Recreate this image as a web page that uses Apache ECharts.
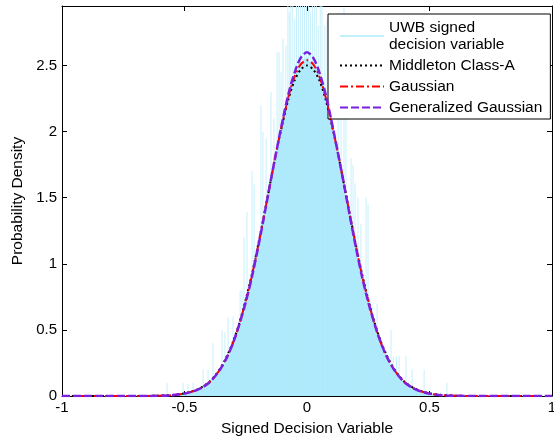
<!DOCTYPE html>
<html>
<head>
<meta charset="utf-8">
<script src="https://cdn.jsdelivr.net/npm/echarts@6/dist/echarts.min.js"></script>
<style>
  html, body { margin: 0; padding: 0; background: #fff; }
  #chart { width: 554px; height: 444px; }
</style>
</head>
<body>
<div id="chart"></div>
<script>
// 直方图: 每格 0.01, 从 -0.60 到 0.60
const histStart = -0.6;
const histStep = 0.01;
const histValues = [
  0, 0, 0.004, 0, 0.008, 0.004, 0.008, 0.012, 0.008, 0.016,
  0.02, 0.016, 0.03, 0.028, 0.04, 0.036, 0.05, 0.066, 0.068, 0.09,
  0.095, 0.12, 0.13, 0.165, 0.178, 0.22, 0.236, 0.285, 0.31, 0.37,
  0.40, 0.47, 0.51, 0.59, 0.64, 0.72, 0.78, 0.88, 0.94, 1.05,
  1.12, 1.23, 1.31, 1.42, 1.50, 1.62, 1.70, 1.81, 1.89, 2.00,
  2.07, 2.17, 2.23, 2.31, 2.36, 2.43, 2.46, 2.50, 2.52, 2.55,
  2.56,
  2.53, 2.52, 2.49, 2.47, 2.41, 2.37, 2.29, 2.24, 2.15, 2.08,
  1.98, 1.90, 1.80, 1.71, 1.60, 1.52, 1.41, 1.32, 1.22, 1.13,
  1.03, 0.96, 0.86, 0.80, 0.71, 0.65, 0.57, 0.52, 0.46, 0.41,
  0.36, 0.32, 0.28, 0.245, 0.21, 0.185, 0.155, 0.138, 0.115, 0.10,
  0.082, 0.072, 0.058, 0.05, 0.04, 0.036, 0.028, 0.024, 0.018, 0.016,
  0.01, 0.012, 0.006, 0.008, 0.004, 0.004, 0, 0.004, 0, 0
];

// 直方图上面的尖峰 [x, 高度]
const histSpikes = [
  [-0.571, 0.10], [-0.506, 0.10], [-0.486, 0.09], [-0.465, 0.10], [-0.424, 0.20],
  [-0.404, 0.20], [-0.384, 0.40], [-0.347, 0.50], [-0.335, 0.48], [-0.322, 0.60],
  [-0.302, 0.60], [-0.273, 0.80], [-0.265, 0.80], [-0.257, 1.20], [-0.245, 1.39],
  [-0.224, 1.70], [-0.216, 1.60], [-0.188, 2.20], [-0.180, 2.00], [-0.167, 1.95],
  [-0.147, 2.30], [-0.135, 2.10], [-0.122, 2.60], [-0.114, 2.60], [-0.106, 2.45],
  [-0.098, 2.70], [-0.086, 2.65], [-0.078, 3], [-0.072, 2.9], [-0.066, 3],
  [-0.058, 3], [-0.05, 2.85], [-0.043, 3], [-0.035, 3], [-0.027, 2.95],
  [-0.018, 3], [-0.01, 3], [-0.002, 3], [0.006, 3], [0.014, 2.9],
  [0.022, 3], [0.03, 3], [0.038, 3], [0.046, 2.8], [0.054, 3],
  [0.061, 3], [0.073, 2.80], [0.082, 2.85], [0.098, 2.60], [0.127, 2.90],
  [0.139, 2.75], [0.151, 2.94], [0.159, 2.5], [0.180, 1.80], [0.188, 1.75],
  [0.196, 1.61], [0.208, 1.50], [0.220, 1.30], [0.241, 1.50], [0.249, 1.45],
  [0.265, 0.70], [0.286, 0.70], [0.343, 0.50], [0.352, 0.30], [0.365, 0.30],
  [0.376, 0.30], [0.404, 0.30], [0.429, 0.20], [0.478, 0.20], [0.571, 0.10]
];

// 拟合曲线的 x 坐标
const curveX = [
  -1, -0.8, -0.7, -0.6, -0.55,
  -0.5, -0.475, -0.45, -0.425, -0.4, -0.375, -0.35, -0.325, -0.3, -0.275,
  -0.25, -0.225, -0.2, -0.175, -0.15, -0.125, -0.1, -0.075, -0.05, -0.025,
  0,
  0.025, 0.05, 0.075, 0.1, 0.125, 0.15, 0.175, 0.2, 0.225, 0.25,
  0.275, 0.3, 0.325, 0.35, 0.375, 0.4, 0.425, 0.45, 0.475, 0.5,
  0.55, 0.6, 0.7, 0.8, 1
];
const middletonY = [
  0, 0, 0, 0.003, 0.008,
  0.02, 0.032, 0.048, 0.072, 0.105, 0.155, 0.22, 0.31, 0.42, 0.56,
  0.73, 0.92, 1.14, 1.37, 1.61, 1.85, 2.06, 2.25, 2.39, 2.47,
  2.50,
  2.47, 2.39, 2.25, 2.06, 1.85, 1.61, 1.37, 1.14, 0.92, 0.73,
  0.56, 0.42, 0.31, 0.22, 0.155, 0.105, 0.072, 0.048, 0.032, 0.02,
  0.008, 0.003, 0, 0, 0
];
const gaussianY = [
  0, 0, 0, 0.002, 0.006,
  0.018, 0.03, 0.045, 0.068, 0.10, 0.15, 0.215, 0.30, 0.41, 0.55,
  0.72, 0.91, 1.13, 1.37, 1.61, 1.85, 2.07, 2.27, 2.42, 2.51,
  2.54,
  2.51, 2.42, 2.27, 2.07, 1.85, 1.61, 1.37, 1.13, 0.91, 0.72,
  0.55, 0.41, 0.30, 0.215, 0.15, 0.10, 0.068, 0.045, 0.03, 0.018,
  0.006, 0.002, 0, 0, 0
];
const genGaussianY = [
  0, 0, 0, 0.002, 0.006,
  0.018, 0.03, 0.045, 0.068, 0.10, 0.15, 0.215, 0.30, 0.41, 0.55,
  0.71, 0.90, 1.12, 1.36, 1.61, 1.85, 2.08, 2.29, 2.45, 2.56,
  2.60,
  2.56, 2.45, 2.29, 2.08, 1.85, 1.61, 1.36, 1.12, 0.90, 0.71,
  0.55, 0.41, 0.30, 0.215, 0.15, 0.10, 0.068, 0.045, 0.03, 0.018,
  0.006, 0.002, 0, 0, 0
];

const xTicks = { min: -1, max: 1, interval: 0.5 };
const yTicks = { min: 0, max: 2.95, interval: 0.5 };

const FONT = 'Liberation Sans';

const histData = histValues.map((v, i) => [+(histStart + i * histStep).toFixed(3), v]);
const toPairs = ys => curveX.map((x, i) => [x, ys[i]]);

const axisCommon = {
  type: 'value',
  axisLine: { show: true, onZero: false, lineStyle: { color: '#000', width: 1 } },
  axisTick: { show: true, inside: true, length: 5, lineStyle: { color: '#000' } },
  splitLine: { show: false },
  axisLabel: { show: false }
};

const option = {
  animation: false,
  backgroundColor: '#fff',
  grid: { left: 62, right: 2, top: 6, bottom: 48, outerBoundsMode: 'none', containLabel: false },
  xAxis: [
    Object.assign({}, axisCommon, {
      min: xTicks.min, max: xTicks.max, interval: xTicks.interval,
      position: 'bottom',
      axisLabel: { show: true, color: '#000', fontFamily: FONT, fontSize: 15, margin: 4 },
      name: 'Signed Decision Variable',
      nameLocation: 'middle',
      nameGap: 25,
      nameTextStyle: { color: '#000', fontFamily: FONT, fontSize: 15.5 }
    }),
    Object.assign({}, axisCommon, {
      min: xTicks.min, max: xTicks.max, interval: xTicks.interval,
      position: 'top'
    })
  ],
  yAxis: [
    Object.assign({}, axisCommon, {
      min: yTicks.min, max: yTicks.max, interval: yTicks.interval,
      position: 'left',
      axisLabel: { show: true, showMaxLabel: false, color: '#000', fontFamily: FONT, fontSize: 15, margin: 5 },
      name: 'Probability Density',
      nameLocation: 'middle',
      nameGap: 34,
      nameTextStyle: { color: '#000', fontFamily: FONT, fontSize: 15.5 }
    }),
    Object.assign({}, axisCommon, {
      min: yTicks.min, max: yTicks.max, interval: yTicks.interval,
      position: 'right'
    })
  ],
  legend: {
    orient: 'vertical',
    left: 328,
    top: 14,
    padding: [5, 8, 3, 11],
    itemWidth: 44,
    itemHeight: 14,
    itemGap: 4,
    backgroundColor: '#fff',
    borderColor: '#000',
    borderWidth: 1,
    borderRadius: 0,
    itemStyle: { opacity: 0 },
    textStyle: { color: '#000', fontFamily: FONT, fontSize: 15.5, lineHeight: 17 },
    formatter: name => name === 'UWB signed decision variable' ? 'UWB signed\ndecision variable' : name,
    data: [
      {
        name: 'UWB signed decision variable',
        icon: 'path://M0,0L0,0M0,6.3L44,6.3L44,7.7L0,7.7ZM44,14L44,14',
        itemStyle: { opacity: 1 }
      },
      'Middleton Class-A',
      'Gaussian',
      'Generalized Gaussian'
    ]
  },
  series: [
    {
      name: 'spikes',
      type: 'bar',
      xAxisIndex: 1,
      yAxisIndex: 0,
      barWidth: 1,
      itemStyle: { color: '#c6f0fc' },
      data: histSpikes,
      z: 1
    },
    {
      name: 'UWB signed decision variable',
      type: 'bar',
      xAxisIndex: 0,
      yAxisIndex: 0,
      barWidth: 3,
      itemStyle: { color: '#aeeafb' },
      data: histData,
      z: 2
    },
    {
      name: 'Middleton Class-A',
      type: 'line',
      symbol: 'none',
      smooth: 0.3,
      lineStyle: { color: '#000', width: 2, type: [2, 3] },
      itemStyle: { color: '#000' },
      data: toPairs(middletonY),
      z: 3
    },
    {
      name: 'Gaussian',
      type: 'line',
      symbol: 'none',
      smooth: 0.3,
      lineStyle: { color: '#ff0000', width: 2, type: [8, 3, 2, 3] },
      itemStyle: { color: '#ff0000' },
      data: toPairs(gaussianY),
      z: 4
    },
    {
      name: 'Generalized Gaussian',
      type: 'line',
      symbol: 'none',
      smooth: 0.3,
      lineStyle: { color: '#7b1fe0', width: 2.5, type: [8, 3] },
      itemStyle: { color: '#7b1fe0' },
      data: toPairs(genGaussianY),
      z: 5
    }
  ]
};

var chart = echarts.init(document.getElementById('chart'));
chart.setOption(option);
</script>
</body>
</html>
